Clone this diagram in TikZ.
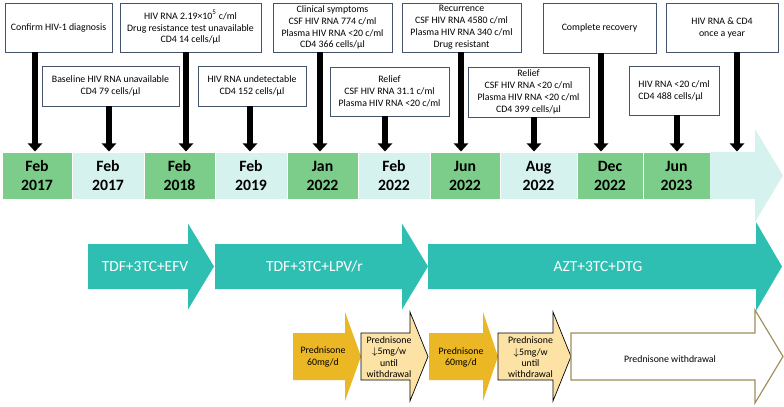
\documentclass[tikz,border=0pt]{standalone}
\usepackage{fontspec}
\setmainfont{Carlito}
\usepackage{tikz}
\usetikzlibrary{arrows.meta}
\definecolor{tgreen}{RGB}{124,205,137}
\definecolor{tcyan}{RGB}{213,242,239}
\definecolor{drugteal}{RGB}{47,191,178}
\definecolor{gold}{RGB}{236,183,36}
\definecolor{lgold}{RGB}{252,227,165}
\definecolor{olive}{RGB}{160,140,90}
\definecolor{boxline}{RGB}{68,84,106}
\def\px{0.025cm}
\tikzstyle{event}=[draw=boxline, fill=white, line width=0.6pt, align=center, inner sep=0.5pt, font=\fontsize{7}{8.45}\selectfont]
\tikzstyle{cell}=[draw=white, line width=0.7pt, minimum height=47*\px, inner sep=0pt, align=center, font=\fontsize{11.2}{13.5}\selectfont\bfseries]
\tikzstyle{evarrow}=[line width=4.2pt, -{Triangle[width=10pt,length=5.7pt]}]
\tikzstyle{drug}=[text=white, font=\fontsize{11}{13}\selectfont]
\tikzstyle{steroid}=[align=center, font=\fontsize{7}{8.1}\selectfont]
% block arrow: style, left x, head base x, tip x, mid y, body half, head half
\newcommand{\harrow}[7]{%
  \path[#1] (#2,#5-#6) -- (#3,#5-#6) -- (#3,#5-#7) -- (#4,#5) -- (#3,#5+#7) -- (#3,#5+#6) -- (#2,#5+#6) -- cycle;}

\begin{document}
\begin{tikzpicture}[x=0.025cm, y=-0.025cm]
        \useasboundingbox (0,0) rectangle (784,407);
        % time line
        \harrow{fill=tcyan}{2}{755}{783}{175.5}{23.5}{46.5}
        \node[cell, fill=tgreen, minimum width=70*\px] (d1)  at (37,175.5)    {Feb\\2017};
        \node[cell, fill=tcyan,  minimum width=72*\px] (d2)  at (108,175.5)   {Feb\\2017};
        \node[cell, fill=tgreen, minimum width=71*\px] (d3)  at (179.5,175.5) {Feb\\2018};
        \node[cell, fill=tcyan,  minimum width=72*\px] (d4)  at (251,175.5)   {Feb\\2019};
        \node[cell, fill=tgreen, minimum width=71*\px] (d5)  at (322.5,175.5) {Jan\\2022};
        \node[cell, fill=tcyan,  minimum width=72*\px] (d6)  at (394,175.5)   {Feb\\2022};
        \node[cell, fill=tgreen, minimum width=70*\px] (d7)  at (465,175.5)   {Jun\\2022};
        \node[cell, fill=tcyan,  minimum width=77*\px] (d8)  at (538.5,175.5) {Aug\\2022};
        \node[cell, fill=tgreen, minimum width=66*\px] (d9)  at (610,175.5)   {Dec\\2022};
        \node[cell, fill=tgreen, minimum width=67*\px] (d10) at (676.5,175.5) {Jun\\2023};
        \node[cell, draw=none, fill=tcyan, minimum width=45*\px] (d11) at (732.5,175.5) {};
        % events
        \node[event, minimum width=107*\px, minimum height=49*\px] (eA) at (58.5,27.5)  {Confirm HIV-1 diagnosis};
        \node[event, minimum width=137*\px, minimum height=40*\px] (eB) at (110.5,86)   {Baseline HIV RNA unavailable\\CD4 79 cells/µl};
        \node[event, minimum width=141*\px, minimum height=49*\px] (eC) at (190.5,27.5)  {HIV RNA 2.19×10\textsuperscript{5} c/ml\\Drug resistance test unavailable\\CD4 14 cells/µl};
        \node[event, minimum width=108*\px, minimum height=40*\px] (eD) at (252,86)     {HIV RNA undetectable\\CD4 152 cells/µl};
        \node[event, minimum width=119*\px, minimum height=49*\px] (eE) at (332.5,27.5)  {Clinical symptoms\\CSF HIV RNA 774 c/ml\\Plasma HIV RNA <20 c/ml\\CD4 366 cells/µl};
        \node[event, minimum width=119*\px, minimum height=49*\px] (eF) at (389.5,91.5)  {Relief\\CSF HIV RNA 31.1 c/ml\\Plasma HIV RNA <20 c/ml};
        \node[event, minimum width=119*\px, minimum height=49*\px] (eG) at (461.5,27.5)  {Recurrence\\CSF HIV RNA 4580 c/ml\\Plasma HIV RNA 340 c/ml\\Drug resistant};
        \node[event, minimum width=121*\px, minimum height=50*\px] (eH) at (528.5,92)    {Relief\\CSF HIV RNA <20 c/ml\\Plasma HIV RNA <20 c/ml\\CD4 399 cells/µl};
        \node[event, minimum width=113*\px, minimum height=50*\px] (eI) at (599.5,28)    {Complete recovery};
        \node[event, align=left, minimum width=90*\px, minimum height=49*\px] (eJ) at (674,90.5) {HIV RNA <20 c/ml\\CD4 488 cells/µl};
        \node[event, minimum width=112*\px, minimum height=49*\px] (eK) at (722,27.5)    {HIV RNA \& CD4\\once a year};
        \foreach \b/\c/\x in {eA/d1/35, eB/d2/109, eC/d3/186, eD/d4/250, eE/d5/320, eF/d6/385,
                              eG/d7/461, eH/d8/534, eI/d9/601, eJ/d10/677, eK/d11/737}
            \draw[evarrow] (\x,0 |- \b.south) -- (\x,0 |- \c.north);
        % regimens
        \harrow{fill=drugteal}{88}{188}{214}{266.5}{22.5}{43}
        \harrow{fill=drugteal}{215}{402}{428}{266.5}{22.5}{43}
        \harrow{fill=drugteal}{428}{756}{782}{266.5}{22.5}{44.5}
        \node[drug] (r1) at (145,266.5)   {TDF+3TC+EFV};
        \node[drug] (r2) at (314.5,266.5) {TDF+3TC+LPV/r};
        \node[drug] (r3) at (598,266.5)   {AZT+3TC+DTG};
        % prednisone
        \harrow{fill=gold}{293}{345}{361}{356.5}{23.5}{44.5}
        \harrow{fill=lgold, draw=black, line width=0.5pt}{361}{410}{428}{356.5}{23.5}{44.5}
        \harrow{fill=gold}{429}{483}{498}{356.5}{23.5}{44.5}
        \harrow{fill=lgold, draw=black, line width=0.5pt}{498}{553}{571}{356.5}{23.5}{44.5}
        \harrow{fill=white, draw=olive, line width=0.8pt}{571}{755}{783}{356.5}{23.5}{46.5}
        \node[steroid] (s1) at (323,357)   {Prednisone\\60mg/d};
        \node[steroid] (s2) at (389,357)   {Prednisone\\$\downarrow$5mg/w\\until\\withdrawal};
        \node[steroid] (s3) at (461,357.5) {Prednisone\\60mg/d};
        \node[steroid] (s4) at (530.5,357.5) {Prednisone\\$\downarrow$5mg/w\\until\\withdrawal};
        \node[steroid] (s5) at (670,359)   {Prednisone withdrawal};
    \end{tikzpicture}
\end{document}
